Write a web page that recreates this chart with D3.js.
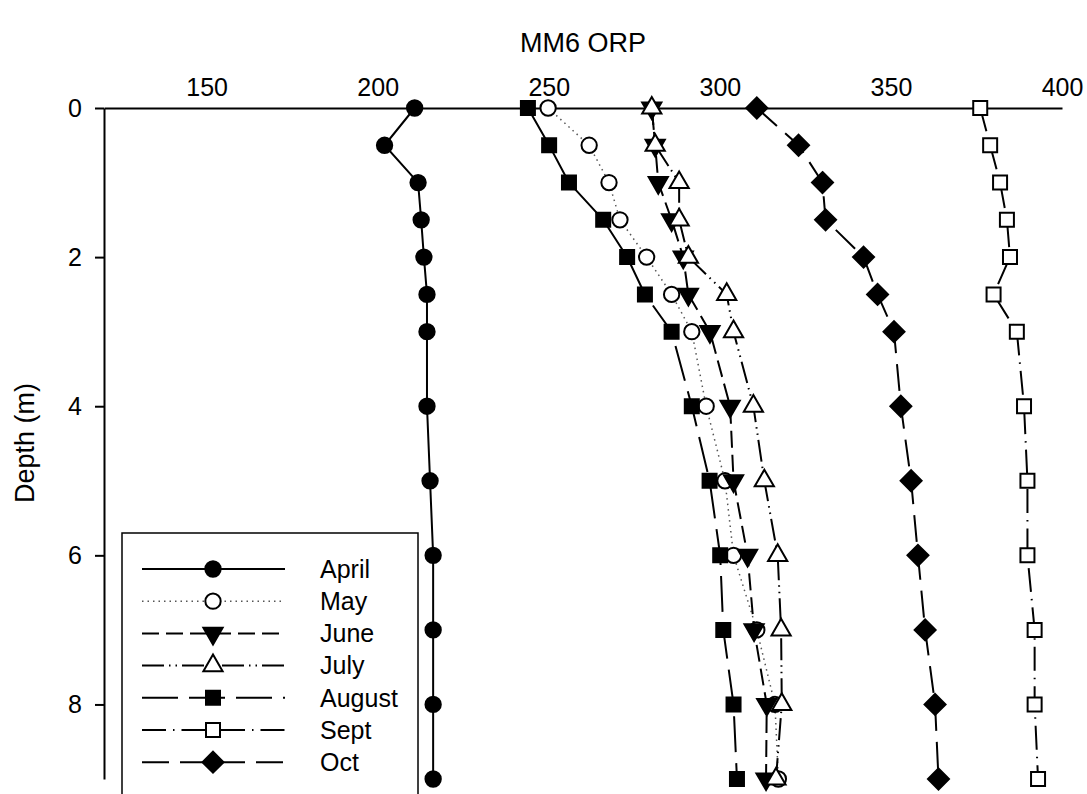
<!DOCTYPE html>
<html>
<head>
<meta charset="utf-8">
<script src="https://cdn.jsdelivr.net/npm/d3@7"></script>
<style>
  body { margin: 0; background: #fff; }
  text { font-family: "Liberation Sans", Arial, sans-serif; fill: #000; }
</style>
</head>
<body>
<svg></svg>
<script>
const width = 1087;
const height = 794;

// depth (m) of each reading
const depths = [0, 0.5, 1, 1.5, 2, 2.5, 3, 4, 5, 6, 7, 8, 9];

// ORP readings per month, one value per depth
const april  = [210.8, 202.0, 211.8, 212.7, 213.5, 214.4, 214.4, 214.4, 215.3, 216.2, 216.2, 216.2, 216.2];
const may    = [249.8, 261.8, 267.6, 270.8, 278.6, 285.9, 291.8, 296.0, 301.5, 304.0, 310.8, 316.1, 317.1];
const june   = [280.1, 281.1, 282.0, 285.9, 289.3, 290.8, 297.1, 303.0, 304.0, 308.1, 310.0, 313.7, 313.5];
const july   = [280.1, 281.1, 288.1, 288.1, 290.8, 302.0, 304.0, 309.8, 313.0, 316.9, 317.9, 318.1, 316.4];
const august = [243.9, 250.1, 255.9, 265.9, 272.9, 278.1, 285.9, 291.8, 297.0, 300.1, 301.0, 304.0, 305.0];
const sept   = [376.1, 379.0, 381.9, 383.9, 384.8, 380.0, 386.8, 388.9, 389.9, 389.9, 392.0, 392.0, 393.0];
const oct    = [310.8, 323.0, 330.0, 330.9, 342.0, 346.1, 350.9, 352.9, 355.9, 357.9, 360.0, 362.9, 363.9];

const xTicks = [150, 200, 250, 300, 350, 400];
const yTicks = [0, 2, 4, 6, 8];

const series = [
  {name: "April",  values: april,  symbol: "circle",   fill: "#000", dash: null},
  {name: "May",    values: may,    symbol: "circle",   fill: "#fff", dash: "1.5,4"},
  {name: "June",   values: june,   symbol: "down",     fill: "#000", dash: "17,7"},
  {name: "July",   values: july,   symbol: "up",       fill: "#fff", dash: "22,5,1.5,5,1.5,5"},
  {name: "August", values: august, symbol: "square",   fill: "#000", dash: "36,11"},
  {name: "Sept",   values: sept,   symbol: "square",   fill: "#fff", dash: "24,7,1.5,7"},
  {name: "Oct",    values: oct,    symbol: "diamond",  fill: "#000", dash: "27,11"}
];

const svg = d3.select("svg")
  .attr("width", width)
  .attr("height", height);

const x = d3.scaleLinear().domain([120, 400]).range([104, 1062]);
const y = d3.scaleLinear().domain([0, 9]).range([108, 779]);

// title
svg.append("text")
  .attr("x", 583)
  .attr("y", 52)
  .attr("text-anchor", "middle")
  .style("font-size", "27px")
  .text("MM6 ORP");

// top axis
const xAxis = svg.append("g")
  .attr("transform", "translate(0,108)")
  .call(d3.axisTop(x).tickValues(xTicks).tickSize(0).tickPadding(12));
xAxis.select(".domain").attr("stroke", "#000").attr("stroke-width", 2);
xAxis.selectAll("text").style("font-size", "25px").attr("fill", "#000");

// left axis
const yAxis = svg.append("g")
  .attr("transform", "translate(104,0)")
  .call(d3.axisLeft(y).tickValues(yTicks).tickSize(9).tickSizeOuter(0).tickPadding(13));
yAxis.select(".domain").attr("stroke", "#000").attr("stroke-width", 2);
yAxis.selectAll(".tick line").attr("stroke", "#000").attr("stroke-width", 2);
yAxis.selectAll("text").style("font-size", "25px").attr("fill", "#000");

svg.append("text")
  .attr("transform", "translate(34,443) rotate(-90)")
  .attr("text-anchor", "middle")
  .style("font-size", "27px")
  .text("Depth (m)");

function symbolPath(type) {
  if (type === "circle") return d3.symbol().type(d3.symbolCircle).size(185)();
  if (type === "square") return d3.symbol().type(d3.symbolSquare).size(196)();
  if (type === "diamond") return "M0,-10.5L10.5,0L0,10.5L-10.5,0Z";
  const t = d3.symbol().type(d3.symbolTriangle).size(160)();
  return t;
}
function symbolRotate(type) {
  return type === "down" ? " rotate(180)" : "";
}

const line = d3.line()
  .x(d => x(d[0]))
  .y(d => y(d[1]));

series.forEach(s => {
  const pts = s.values.map((v, i) => [v, depths[i]]);
  const g = svg.append("g");
  g.append("path")
    .datum(pts)
    .attr("d", line)
    .attr("fill", "none")
    .attr("stroke", s.name === "May" ? "#555" : "#000")
    .attr("stroke-width", s.name === "May" ? 1.5 : 2)
    .attr("stroke-dasharray", s.dash);
  g.selectAll("path.mark")
    .data(pts)
    .enter()
    .append("path")
    .attr("class", "mark")
    .attr("d", symbolPath(s.symbol))
    .attr("transform", d => `translate(${x(d[0])},${y(d[1])})` + symbolRotate(s.symbol))
    .attr("fill", s.fill)
    .attr("stroke", "#000")
    .attr("stroke-width", 2);
});

// legend
const legend = svg.append("g");
legend.append("rect")
  .attr("x", 122)
  .attr("y", 533)
  .attr("width", 296)
  .attr("height", 300)
  .attr("fill", "#fff")
  .attr("stroke", "#000")
  .attr("stroke-width", 1.5);

series.forEach((s, i) => {
  const ly = 569 + i * 32.2;
  legend.append("line")
    .attr("x1", 142).attr("x2", 285)
    .attr("y1", ly).attr("y2", ly)
    .attr("stroke", s.name === "May" ? "#555" : "#000")
    .attr("stroke-width", s.name === "May" ? 1.5 : 2)
    .attr("stroke-dasharray", s.dash);
  legend.append("path")
    .attr("d", symbolPath(s.symbol))
    .attr("transform", `translate(213,${ly})` + symbolRotate(s.symbol))
    .attr("fill", s.fill)
    .attr("stroke", "#000")
    .attr("stroke-width", 2);
  legend.append("text")
    .attr("x", 320)
    .attr("y", ly)
    .attr("dy", "0.35em")
    .style("font-size", "25px")
    .text(s.name);
});
</script>
</body>
</html>
